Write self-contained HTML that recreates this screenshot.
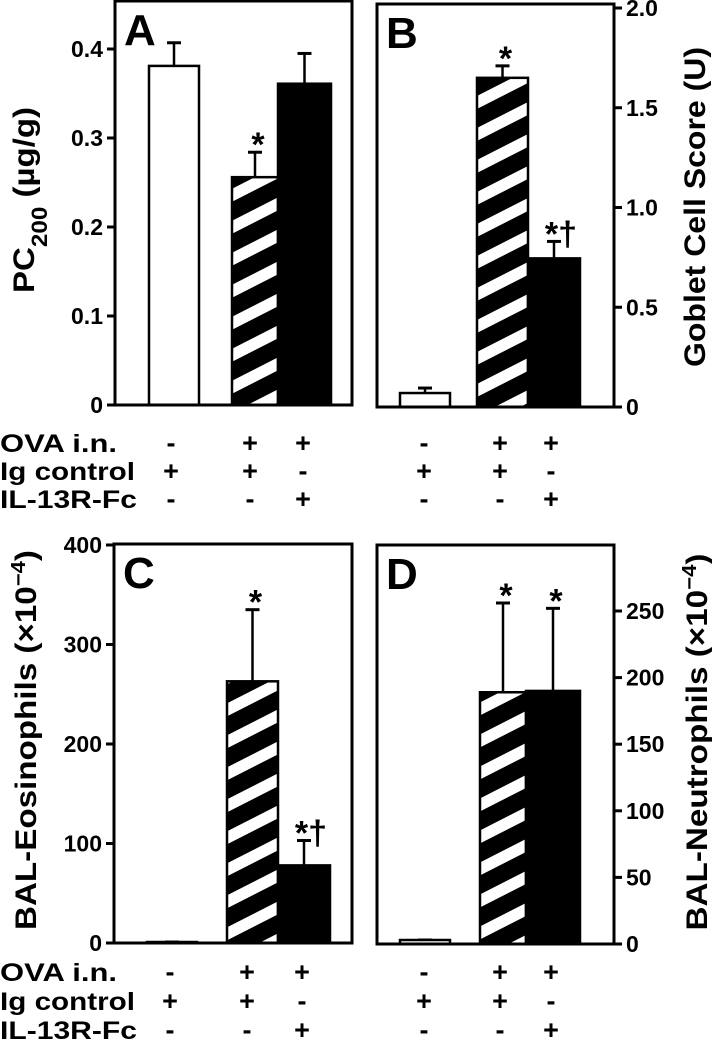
<!DOCTYPE html>
<html><head><meta charset="utf-8">
<style>
html,body{margin:0;padding:0;background:#fff;}
svg{display:block;font-family:"Liberation Sans",Arial,sans-serif;font-weight:bold;}
</style></head>
<body>
<svg id="fig" width="712" height="1050" viewBox="0 0 712 1050" xmlns="http://www.w3.org/2000/svg">
<defs>
<pattern id="hatch" patternUnits="userSpaceOnUse" width="10" height="32" patternTransform="skewY(-27)">
<rect x="0" y="0" width="10" height="32" fill="#fff"/>
<rect x="0" y="0" width="10" height="19" fill="#000"/>
</pattern>
</defs>
</svg>
<script>
const groups = ["control", "ova-ig", "ova-il13r"];
const ovaRow = ["-", "+", "+"];
const igRow = ["+", "+", "-"];
const il13Row = ["-", "-", "+"];
const valuesA = [0.381, 0.256, 0.361];
const errorsA = [0.407, 0.284, 0.395];
const valuesB = [0.07, 1.65, 0.745];
const errorsB = [0.095, 1.71, 0.83];
const valuesC = [1, 263, 78];
const errorsC = [1, 335, 103];
const valuesD = [3, 189, 190];
const errorsD = [3, 256, 252];
const ticksA = [0, 0.1, 0.2, 0.3, 0.4];
const tickLabelsA = ["0", "0.1", "0.2", "0.3", "0.4"];
const ticksB = [0, 0.5, 1.0, 1.5, 2.0];
const tickLabelsB = ["0", "0.5", "1.0", "1.5", "2.0"];
const ticksC = [0, 100, 200, 300, 400];
const tickLabelsC = ["0", "100", "200", "300", "400"];
const ticksD = [0, 50, 100, 150, 200, 250];
const tickLabelsD = ["0", "50", "100", "150", "200", "250"];
const marksA = ["", "*", ""];
const marksB = ["", "*", "*†"];
const marksC = ["", "*", "*†"];
const marksD = ["", "*", "*"];

const svg = document.getElementById('fig');
const NS = "http://www.w3.org/2000/svg";
function mk(tag, attrs, parent){
  const e = document.createElementNS(NS, tag);
  for (const k in attrs) e.setAttribute(k, attrs[k]);
  (parent||svg).appendChild(e);
  return e;
}
function panel(o){
  const g = mk('g', {});
  
  
  const y = v => o.y0 - (v - 0) / o.max * (o.y0 - o.ymax);
  const fills = ["#fff", "url(#hatch)", "#000"];
  o.vals.forEach((v, i) => {
    const bw = o.bw[i];
    const top = y(v);
    const eTop = y(o.errs[i]);
    const cx = o.bx[i] + bw / 2;
    const el = mk('line', {x1: cx, x2: cx, y1: top, y2: eTop, stroke: '#000', 'stroke-width': 2.5}, g);
    
    
    const cap = mk('line', {x1: cx - 7, x2: cx + 7, y1: eTop, y2: eTop, stroke: '#000', 'stroke-width': 3}, g);
    
    
    const r = mk('rect', {x: o.bx[i], y: top, width: bw, height: Math.max(o.y0 - top, 0.5), fill: fills[i], stroke: '#000', 'stroke-width': 2.5}, g);
    
    
    if (o.marks[i]) {
      const t = mk('text', {x: cx + (o.marks[i].length > 1 ? 7 : 3), y: eTop + 4, 'font-size': 34, 'text-anchor': 'middle'}, g);
      t.textContent = o.marks[i];
      
      
    }
  });
  const f = mk('rect', {x: o.left, y: o.top, width: o.right - o.left, height: o.y0 - o.top, fill: 'none', stroke: '#000', 'stroke-width': 3}, g);
  
  
  const ax = o.side === 'left' ? o.left : o.right;
  o.ticks.forEach((tv, i) => {
    const ty = y(tv);
    const dir = o.side === 'left' ? -1 : 1;
    const tl = mk('line', {x1: ax, x2: ax + dir * 8, y1: ty, y2: ty, stroke: '#000', 'stroke-width': 3}, g);
    
    
    const lab = o.tickLabels[i];
    const tt = mk('text', {x: ax + dir * 12, y: ty + 8, 'font-size': 23, 'text-anchor': o.side === 'left' ? 'end' : 'start'}, g);
    tt.textContent = lab;
    
    
  });
  const L = mk('text', {x: o.left + 9, y: o.top + 44, 'font-size': 44}, g);
  L.textContent = o.letter;
  
  
  const at = mk('text', {x: 0, y: 0, 'font-size': 30, 'text-anchor': 'middle', textLength: o.tlen, lengthAdjust: 'spacingAndGlyphs', transform: 'translate(' + o.tx + ',' + o.ty + ') rotate(-90)'}, g);
  at.innerHTML = o.title;
  
  
  const rows = [ovaRow, igRow, il13Row];
  const rowNames = ["OVA i.n.", "Ig control", "IL-13R-Fc"];
  const rowLens = [117, 135, 137];
  rows.forEach((row, r) => {
    const ry = o.rowY[r];
    if (o.rowLabels) {
      const rl = mk('text', {x: 0, y: ry, 'font-size': 25, textLength: rowLens[r], lengthAdjust: 'spacingAndGlyphs'}, g);
      rl.textContent = rowNames[r];
      
      
    }
    row.forEach((s, i) => {
      const st = mk('text', {x: o.cols[i], y: ry, 'font-size': 27, 'text-anchor': 'middle'}, g);
      st.textContent = s;
      
      
    });
  });
}
panel({letter:'A', left:115, right:352, top:1, y0:405, ymax:49, max:0.4, vals:valuesA, errs:errorsA,
  bx:[149,232,278], bw:[50,46,53], ticks:ticksA, tickLabels:tickLabelsA, side:'left', marks:marksA,
  tx:34, ty:200, tlen:186, title:'PC<tspan baseline-shift="sub" font-size="22">200</tspan> (µg/g)', rowY:[452,480,508], rowLabels:true, cols:[171,250,303]});
panel({letter:'B', left:377, right:614, top:4, y0:407, ymax:8, max:2.0, vals:valuesB, errs:errorsB,
  bx:[400,477,528], bw:[50,51,52], ticks:ticksB, tickLabels:tickLabelsB, side:'right', marks:marksB,
  tx:705, ty:207, tlen:320, title:'Goblet Cell Score (U)', rowY:[452,480,508], rowLabels:false, cols:[424,500,551]});
panel({letter:'C', left:114, right:352, top:544, y0:943, ymax:545, max:400, vals:valuesC, errs:errorsC,
  bx:[147,227,278], bw:[50,51,52], ticks:ticksC, tickLabels:tickLabelsC, side:'left', marks:marksC,
  tx:36, ty:740, tlen:380, title:'BAL-Eosinophils (×10<tspan baseline-shift="super" font-size="20">−4</tspan>)', rowY:[981,1010,1039], rowLabels:true, cols:[170,247,302]});
panel({letter:'D', left:377, right:614, top:545, y0:944, ymax:611, max:250, vals:valuesD, errs:errorsD,
  bx:[400,480,526], bw:[50,46,54], ticks:ticksD, tickLabels:tickLabelsD, side:'right', marks:marksD,
  tx:707, ty:742, tlen:377, title:'BAL-Neutrophils (×10<tspan baseline-shift="super" font-size="20">−4</tspan>)', rowY:[981,1010,1039], rowLabels:false, cols:[424,500,551]});
</script>
</body></html>
